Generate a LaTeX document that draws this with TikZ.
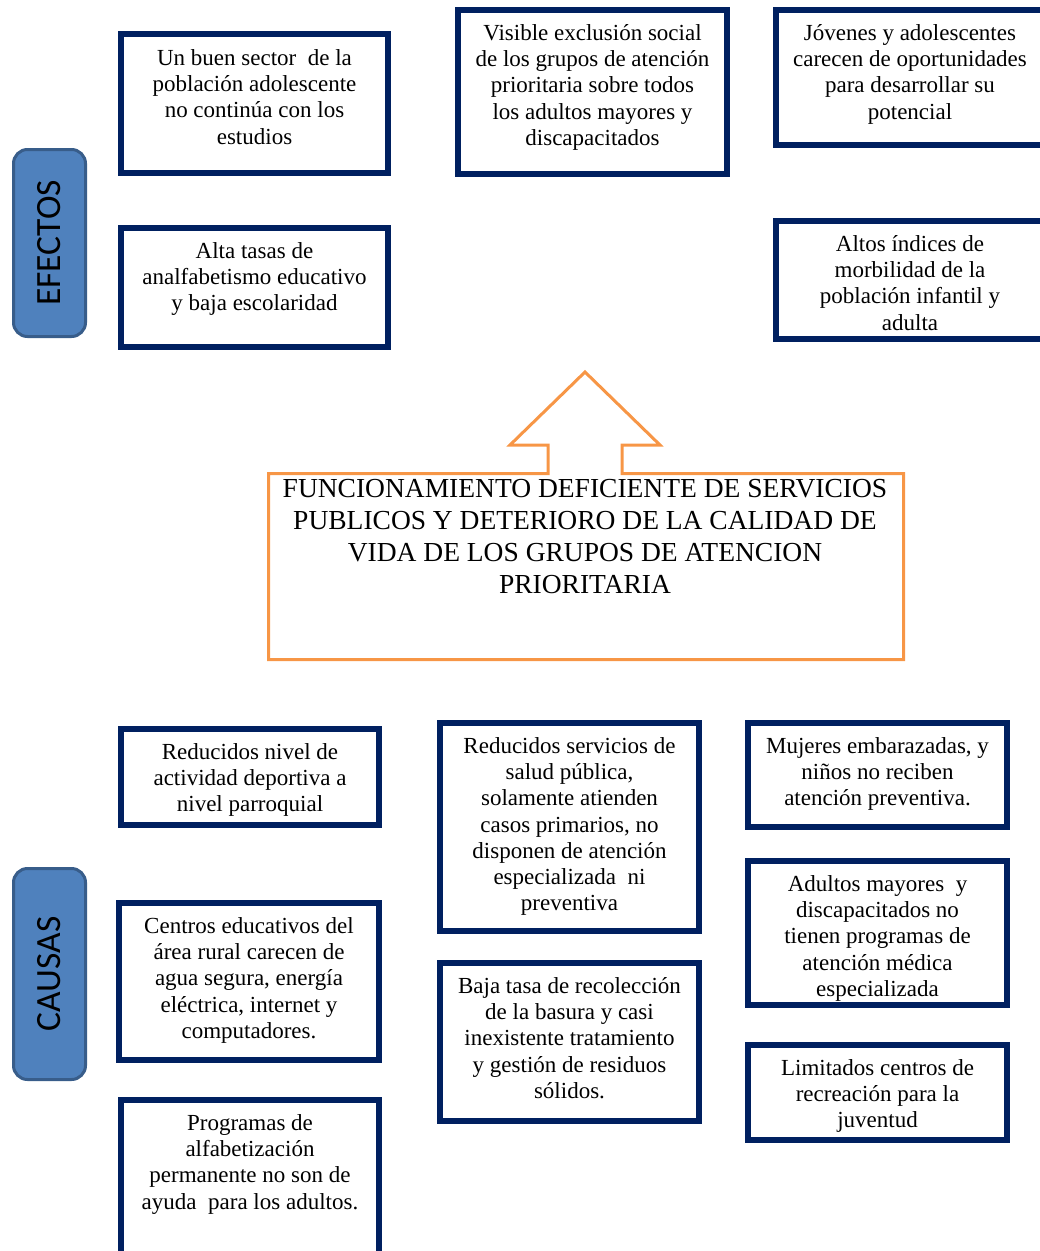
\documentclass[tikz,border=0pt]{standalone}
\usepackage{fontspec}
\setmainfont{Liberation Serif}
\newfontfamily\serifa{Liberation Serif}
\newfontfamily\calibri{Carlito}
\definecolor{marino}{RGB}{0,32,96}
\definecolor{naranja}{RGB}{247,150,70}
\definecolor{azulcaja}{RGB}{79,129,189}
\definecolor{bordeazul}{RGB}{56,93,138}

\begin{document}
\begin{tikzpicture}[x=1pt, y=-1pt,
    caja/.style={draw=marino, line width=6pt, inner sep=0pt},
    texto/.style={font=\serifa\fontsize{23}{26.3}\selectfont, align=center, anchor=north, inner sep=0pt, execute at begin node=\strut},
    titulo/.style={font=\serifa\fontsize{27.5}{32}\selectfont, align=center, anchor=north, inner sep=0pt, execute at begin node=\strut},
    etiqueta/.style={draw=bordeazul, fill=azulcaja, line width=3pt, rounded corners=14pt, rotate=90, minimum height=72pt, font=\calibri\fontsize{35.5}{40}\selectfont}]
    \useasboundingbox (0,0) rectangle (1040,1251);
    \clip (0,0) rectangle (1040,1251);
    % etiquetas laterales
    \node[etiqueta, minimum width=187pt] (efectos) at (49.5,243) {EFECTOS};
    \node[etiqueta, minimum width=211pt] (causas) at (49.5,974) {CAUSAS};
    % efectos
    \node[caja, minimum width=267pt, minimum height=139pt] (ef1) at (254.5,103.5) {};
    \node[texto] at ([yshift=-18pt]ef1.north) {Un buen sector\ \ de la\\población adolescente\\no continúa con los\\estudios};
    \node[caja, minimum width=267pt, minimum height=119pt] (ef2) at (254.5,287.5) {};
    \node[texto] at ([yshift=-17pt]ef2.north) {Alta tasas de\\analfabetismo educativo\\y baja escolaridad};
    \node[caja, minimum width=269pt, minimum height=164pt] (ef3) at (592.5,92) {};
    \node[texto] at ([yshift=-17pt]ef3.north) {Visible exclusión social\\de los grupos de atención\\prioritaria sobre todos\\los adultos mayores y\\discapacitados};
    \node[caja, minimum width=268pt, minimum height=135pt] (ef4) at (910,77.5) {};
    \node[texto] at ([yshift=-17pt]ef4.north) {Jóvenes y adolescentes\\carecen de oportunidades\\para desarrollar su\\potencial};
    \node[caja, minimum width=268pt, minimum height=118pt] (ef5) at (910,280) {};
    \node[texto] at ([yshift=-17pt]ef5.north) {Altos índices de\\morbilidad de la\\población infantil y\\adulta};
    % problema central con la flecha hacia arriba
    \draw[naranja, line width=3pt, line join=miter] (548,473.5) -- (548,445) -- (510,445) -- (585,372) -- (660,445) -- (622,445) -- (622,473.5)
        -- (903.5,473.5) -- (903.5,659.5) -- (268.5,659.5) -- (268.5,473.5) -- cycle;
    \node[titulo] (problema) at (585,479.5) {FUNCIONAMIENTO DEFICIENTE DE SERVICIOS\\PUBLICOS Y DETERIORO DE LA CALIDAD DE\\VIDA DE LOS GRUPOS DE ATENCION\\PRIORITARIA};
    % causas
    \node[caja, minimum width=258pt, minimum height=96pt] (ca1) at (250,777) {};
    \node[texto] at ([yshift=-17pt]ca1.north) {Reducidos nivel de\\actividad deportiva a\\nivel parroquial};
    \node[caja, minimum width=260pt, minimum height=157pt] (ca2) at (249,981.5) {};
    \node[texto] at ([yshift=-17pt]ca2.north) {Centros educativos del\\área rural carecen de\\agua segura, energía\\eléctrica, internet y\\computadores.};
    \node[caja, minimum width=258pt, minimum height=159pt] (ca3) at (250,1179.5) {};
    \node[texto] at ([yshift=-17pt]ca3.north) {Programas de\\alfabetización\\permanente no son de\\ayuda\ \ para los adultos.};
    \node[caja, minimum width=259pt, minimum height=208pt] (ca4) at (569.5,827) {};
    \node[texto] at ([yshift=-17pt]ca4.north) {Reducidos servicios de\\salud pública,\\solamente atienden\\casos primarios, no\\disponen de atención\\especializada\ \ ni\\preventiva};
    \node[caja, minimum width=259pt, minimum height=158pt] (ca5) at (569.5,1042) {};
    \node[texto] at ([yshift=-17pt]ca5.north) {Baja tasa de recolección\\de la basura y casi\\inexistente tratamiento\\y gestión de residuos\\sólidos.};
    \node[caja, minimum width=259pt, minimum height=104pt] (ca6) at (877.5,775) {};
    \node[texto] at ([yshift=-17pt]ca6.north) {Mujeres embarazadas, y\\niños no reciben\\atención preventiva.};
    \node[caja, minimum width=259pt, minimum height=144pt] (ca7) at (877.5,933) {};
    \node[texto] at ([yshift=-17pt]ca7.north) {Adultos mayores\ \ y\\discapacitados no\\tienen programas de\\atención médica\\especializada};
    \node[caja, minimum width=259pt, minimum height=95pt] (ca8) at (877.5,1092.5) {};
    \node[texto] at ([yshift=-17pt]ca8.north) {Limitados centros de\\recreación para la\\juventud};
\end{tikzpicture}
\end{document}
